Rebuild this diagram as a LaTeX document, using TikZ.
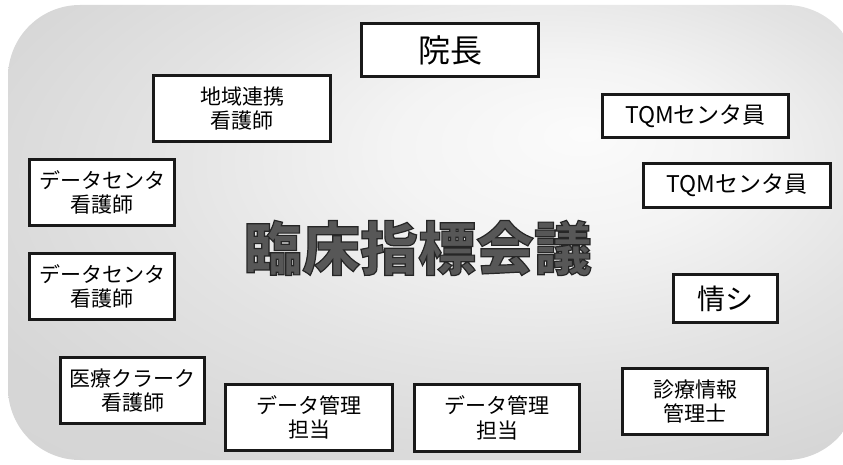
\documentclass[tikz,border=0pt]{standalone}
\usepackage{fontspec}
\newfontfamily\jp{Noto Sans CJK JP}
\pgfdeclareradialshading{bgshade}{\pgfpoint{9bp}{11bp}}{color(0bp)=(gray!3); color(10bp)=(gray!9); color(22bp)=(gray!22); color(34bp)=(gray!32); color(60bp)=(gray!36)}
\begin{document}
\begin{tikzpicture}[x=1pt,y=-1pt,
  box/.style={draw=black!90, line width=3.2pt, fill=white, inner sep=0pt, align=center, font=\jp\fontsize{21}{24.5}\selectfont},
  title/.style={inner sep=0pt, text=black!66, font=\jp\bfseries\fontsize{58}{60}\selectfont}]
\useasboundingbox (0,0) rectangle (843,465);
\path[shading=bgshade, rounded corners=72pt] (8,5) rectangle (858,460);
\node[box, minimum width=177, minimum height=53] (incho) at (450,50) {\fontsize{32}{34}\selectfont 院長};
\node[box, minimum width=177, minimum height=66] (chiiki) at (242,108.5) {地域連携\\看護師};
\node[box, minimum width=145, minimum height=66] (dc1) at (102,192.5) {データセンタ\\看護師};
\node[box, minimum width=145, minimum height=66] (dc2) at (102,286.5) {データセンタ\\看護師};
\node[box, minimum width=144, minimum height=66] (clerk) at (132.5,390.5) {医療クラーク\\看護師};
\node[box, minimum width=167, minimum height=66] (dm1) at (309,417.5) {データ管理\\担当};
\node[box, minimum width=165, minimum height=67] (dm2) at (497,418) {データ管理\\担当};
\node[box, minimum width=145, minimum height=66] (shinryo) at (695,401.5) {診療情報\\管理士};
\node[box, minimum width=104, minimum height=48] (joshi) at (725.5,298.5) {\fontsize{28}{30}\selectfont 情シ};
\node[box, minimum width=186, minimum height=43] (tqm1) at (695.5,116) {\fontsize{23}{25}\selectfont TQMセンタ員};
\node[box, minimum width=187, minimum height=44] (tqm2) at (737,185.5) {\fontsize{23}{25}\selectfont TQMセンタ員};
\node[title] (kaigi) at (418,248) {\special{pdf:literal direct 2 Tr 1.2 w 0.15 G}臨床指標会議\special{pdf:literal direct 0 Tr 0 G}};
\end{tikzpicture}
\end{document}
